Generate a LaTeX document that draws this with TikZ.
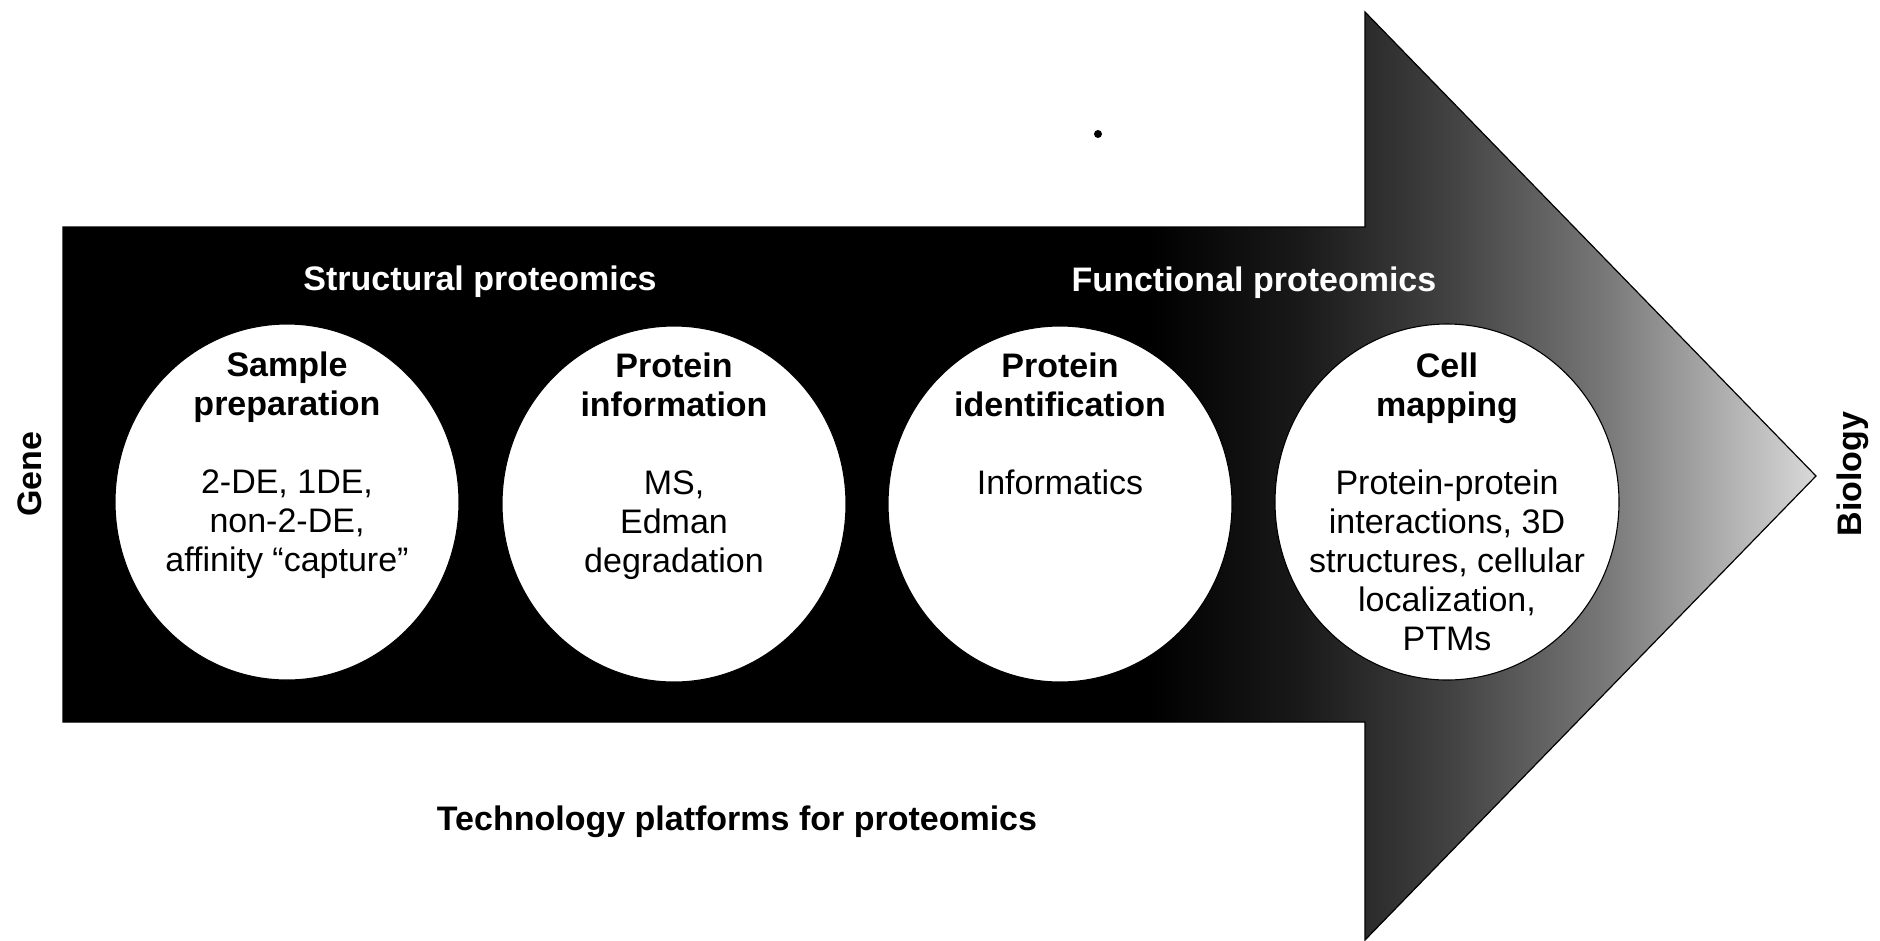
\documentclass[tikz,border=0pt]{standalone}
\usepackage{fontspec}
\setmainfont{Liberation Sans}
\usetikzlibrary{shapes.geometric}
\pgfdeclarehorizontalshading{arrowshade}{100bp}{color(0bp)=(black); color(25bp)=(black); color(56bp)=(black); color(60.3bp)=(black!90); color(64.6bp)=(black!74); color(68.8bp)=(black!54); color(75bp)=(black!15); color(100bp)=(black!15)}
\tikzset{
  disc/.style={ellipse, draw=black, line width=1.1pt, fill=white, minimum width=344pt, minimum height=356pt, inner sep=0pt},
  lbl/.style={font=\fontsize{34}{39}\selectfont, inner sep=0pt, anchor=base},
  head/.style={lbl, font=\fontsize{34}{39}\selectfont\bfseries},
  whitehead/.style={head, text=white},
  side/.style={inner sep=0pt, font=\fontsize{34}{39}\selectfont\bfseries, rotate=90}
}
\newcommand{\blocktext}[1]{\begin{tabular}[t]{@{}c@{}}#1\end{tabular}}
\begin{document}
\begin{tikzpicture}[x=1pt,y=-1pt]
\useasboundingbox (0,0) rectangle (1880,940);
\fill[white] (0,0) rectangle (1880,940);
% big arrow
\coordinate (a1) at (63,227);
\coordinate (a2) at (1365,227);
\coordinate (a3) at (1365,12);
\coordinate (tip) at (1816,476);
\coordinate (a5) at (1365,940);
\coordinate (a6) at (1365,722);
\coordinate (a7) at (63,722);
\shade[shading=arrowshade, draw=black, line width=1.2pt, line join=miter]
  (a1) -- (a2) -- (a3) -- (tip) -- (a5) -- (a6) -- (a7) -- cycle;
% headings
\node[whitehead] (struct) at (480,290) {Structural proteomics};
\node[whitehead] (func) at (1254,291) {Functional proteomics};
% circles
\node[disc] (c1) at (287,502) {};
\node[disc] (c2) at (674,504) {};
\node[disc] (c3) at (1060,504) {};
\node[disc] (c4) at (1447,502) {};
% circle texts
\node[lbl] (t1) at (287,376) {\blocktext{\textbf{Sample}\\ \textbf{preparation}\\ \\ 2-DE, 1DE,\\ non-2-DE,\\ affinity “capture”}};
\node[lbl] (t2) at (674,377) {\blocktext{\textbf{Protein}\\ \textbf{information}\\ \\ MS,\\ Edman\\ degradation}};
\node[lbl] (t3) at (1060,377) {\blocktext{\textbf{Protein}\\ \textbf{identification}\\ \\ Informatics}};
\node[lbl] (t4) at (1447,377) {\blocktext{\textbf{Cell}\\ \textbf{mapping}\\ \\ Protein-protein\\ interactions, 3D\\ structures, cellular\\ localization,\\ PTMs}};
% side labels
\node[side] (gene) at (30,474) {Gene};
\node[side] (bio) at (1853,474) {Biology};
% bottom label
\node[head] (tech) at (737,830) {Technology platforms for proteomics};
% speck
\fill[black] (1098,134) circle (4);
\end{tikzpicture}
\end{document}
